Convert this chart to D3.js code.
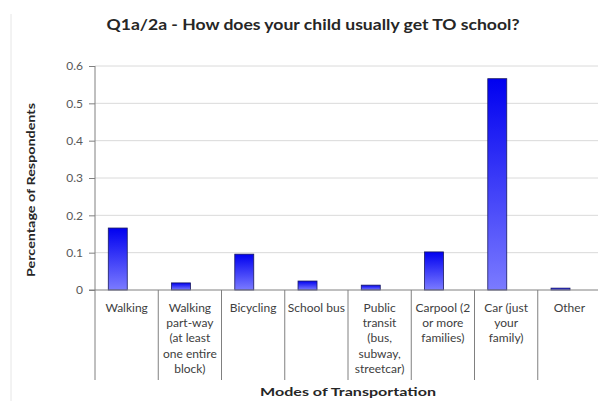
<!DOCTYPE html>
<html>
<head>
<meta charset="utf-8">
<script src="https://cdn.jsdelivr.net/npm/d3@7"></script>
<style>
  body { margin: 0; background: #fff; }
  text { font-family: Lato, "Open Sans", sans-serif; }
</style>
</head>
<body>
<div id="chart"></div>
<script>
// data
const categories = [
  ["Walking"],
  ["Walking", "part-way", "(at least", "one entire", "block)"],
  ["Bicycling"],
  ["School bus"],
  ["Public", "transit", "(bus,", "subway,", "streetcar)"],
  ["Carpool (2", "or more", "families)"],
  ["Car (just", "your", "family)"],
  ["Other"]
];
const shares = [0.166, 0.019, 0.096, 0.024, 0.013, 0.102, 0.566, 0.005];
const yTicks = [0, 0.1, 0.2, 0.3, 0.4, 0.5, 0.6];

const width = 598, height = 401;
const plotL = 95, plotR = 601, plotT = 66, plotB = 290;

var svg = d3.select('#chart')
    .append('svg')
    .attr('width', width)
    .attr('height', height);

// faint frame line on the left
svg.append('line')
  .attr('x1', 11).attr('x2', 11).attr('y1', 14).attr('y2', 401)
  .attr('stroke', '#e6e6e6');

var defs = svg.append('defs');
var grad = defs.append('linearGradient')
  .attr('id', 'barGrad').attr('x1', 0).attr('x2', 0).attr('y1', 0).attr('y2', 1);
grad.append('stop').attr('offset', '0%').attr('stop-color', '#0000f0');
grad.append('stop').attr('offset', '100%').attr('stop-color', '#7b7bff');

var x = d3.scaleBand()
  .domain(d3.range(categories.length))
  .range([plotL, plotR]);

var y = d3.scaleLinear()
  .domain([0, 0.6])
  .range([plotB, plotT]);

// gridlines
svg.selectAll('.grid')
  .data(yTicks.slice(1))
  .enter()
  .append('line')
  .attr('x1', plotL).attr('x2', width)
  .attr('y1', d => y(d)).attr('y2', d => y(d))
  .attr('stroke', '#dadada');

// y axis
var yAxis = svg.append('g')
  .attr('transform', `translate(${plotL},0)`)
  .call(d3.axisLeft(y).tickValues(yTicks).tickSize(6).tickPadding(6)
    .tickFormat(d => d === 0 ? '0' : d3.format('.1f')(d)));
yAxis.select('.domain').remove();
yAxis.selectAll('.tick line').attr('stroke', '#808080');
yAxis.selectAll('.tick text').attr('fill', '#595959').style('font-size', '12px');
yAxis.append('line')
  .attr('x1', 0).attr('x2', 0).attr('y1', plotT).attr('y2', 380)
  .attr('stroke', '#808080');

// category dividers below the axis
svg.selectAll('.div')
  .data(d3.range(1, categories.length + 1))
  .enter()
  .append('line')
  .attr('x1', d => plotL + d * x.bandwidth())
  .attr('x2', d => plotL + d * x.bandwidth())
  .attr('y1', plotB).attr('y2', 380)
  .attr('stroke', '#808080');

// bars
svg.selectAll('.bar')
  .data(shares)
  .enter()
  .append('rect')
  .attr('x', (d, i) => x(i) + x.bandwidth() * 0.21)
  .attr('width', x.bandwidth() * 0.3)
  .attr('y', d => y(d))
  .attr('height', d => y(0) - y(d))
  .attr('fill', 'url(#barGrad)')
  .attr('stroke', '#1a1a60')
  .attr('stroke-width', 0.8);

// x axis line
svg.append('line')
  .attr('x1', plotL - 6).attr('x2', width)
  .attr('y1', plotB).attr('y2', plotB)
  .attr('stroke', '#808080');

// category labels
var labels = svg.selectAll('.cat')
  .data(categories)
  .enter()
  .append('text')
  .attr('text-anchor', 'middle')
  .attr('fill', '#404040')
  .style('font-size', '12px');
labels.selectAll('tspan')
  .data((d, i) => d.map(t => ({ t: t, i: i })))
  .enter()
  .append('tspan')
  .attr('x', d => x(d.i) + x.bandwidth() / 2)
  .attr('y', (d, j) => 312 + j * 15.2)
  .text(d => d.t);

// titles
svg.append('text')
  .attr('x', 313).attr('y', 30)
  .attr('text-anchor', 'middle')
  .attr('textLength', 413).attr('lengthAdjust', 'spacingAndGlyphs')
  .style('font-size', '16px').style('font-weight', 'bold')
  .attr('fill', '#262626')
  .text('Q1a/2a - How does your child usually get TO school?');

svg.append('text')
  .attr('transform', 'translate(35,190) rotate(-90)')
  .attr('text-anchor', 'middle')
  .attr('textLength', 174).attr('lengthAdjust', 'spacingAndGlyphs')
  .style('font-size', '11px').style('font-weight', 'bold')
  .attr('fill', '#262626')
  .text('Percentage of Respondents');

svg.append('text')
  .attr('x', 348).attr('y', 396)
  .attr('text-anchor', 'middle')
  .attr('textLength', 176).attr('lengthAdjust', 'spacingAndGlyphs')
  .style('font-size', '12px').style('font-weight', 'bold')
  .attr('fill', '#262626')
  .text('Modes of Transportation');
</script>
</body>
</html>
